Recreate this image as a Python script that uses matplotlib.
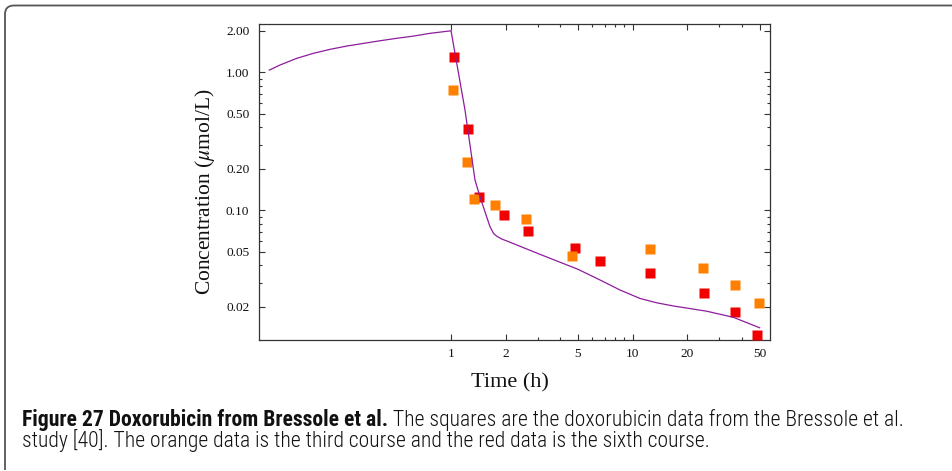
import matplotlib
matplotlib.use("Agg")
import matplotlib.pyplot as plt
from matplotlib import font_manager
from matplotlib.path import Path
from matplotlib.patches import PathPatch
from matplotlib.ticker import FixedLocator, FixedFormatter, NullFormatter

# model curve
curve_t = [0.1, 0.1145, 0.1415, 0.1746, 0.216, 0.267, 0.329, 0.407, 0.502, 0.621, 0.766, 1.0,
           1.194, 1.355, 1.445, 1.57, 1.64, 1.715, 1.785, 1.9, 2.03,
           3.09, 5.0, 6.61, 8.51, 10.97, 13.55, 16.7, 25.5, 35.8, 50.0]
curve_c = [1.039, 1.13, 1.263, 1.373, 1.468, 1.551, 1.62, 1.694, 1.764, 1.83, 1.917, 2.0,
           0.533, 0.166, 0.125, 0.09, 0.076, 0.068, 0.065, 0.062, 0.060,
           0.048, 0.0374, 0.0313, 0.0265, 0.0230, 0.0214, 0.0203, 0.0186, 0.0168, 0.0141]

# third course (orange)
third_t = [1.03, 1.23, 1.33, 1.75, 2.6, 4.62, 12.5, 24.5, 36.7, 49.8]
third_c = [0.744, 0.224, 0.121, 0.110, 0.0865, 0.0466, 0.0524, 0.0382, 0.0288, 0.0213]

# sixth course (red)
sixth_t = [1.04, 1.245, 1.43, 1.96, 2.66, 4.83, 6.63, 12.5, 24.8, 36.7, 48.5]
sixth_c = [1.30, 0.388, 0.1255, 0.0925, 0.0712, 0.0536, 0.0431, 0.0353, 0.0253, 0.0183, 0.0125]

x_major = [1, 2, 5, 10, 20, 50]
x_minor = [3, 4, 6, 7, 8, 9, 30, 40]
y_major = [2.0, 1.0, 0.5, 0.2, 0.1, 0.05, 0.02]
y_minor = [0.9, 0.8, 0.7, 0.6, 0.4, 0.3, 0.09, 0.08, 0.07, 0.06, 0.04, 0.03]

caption_bold = "Figure 27 Doxorubicin from Bressole et al."
caption_rest = "The squares are the doxorubicin data from the Bressole et al."
caption_line2 = "study [40]. The orange data is the third course and the red data is the sixth course."


def pick_font(names):
    avail = {f.name for f in font_manager.fontManager.ttflist}
    for n in names:
        if n in avail:
            return n
    return "DejaVu Sans"


plt.rcParams['font.family'] = 'Liberation Serif'
plt.rcParams['mathtext.fontset'] = 'stix'

W, H = 952, 471
fig = plt.figure(figsize=(W / 100, H / 100), dpi=100)


def fx(px):
    return px / W


def fy(py):
    return 1 - py / H


ax = fig.add_axes([fx(259), fy(340), fx(770) - fx(259), fy(24) - fy(340)])
ax.set_xscale('log')
ax.set_yscale('log')
ax.set_xlim(0.0877, 57)
ax.set_ylim(0.0115, 2.24)

ax.plot(sixth_t, sixth_c, 's', color='#f20000', ms=6.5, mec='none', zorder=3)
ax.plot(third_t, third_c, 's', color='#ff8000', ms=6.5, mec='none', zorder=3)
ax.plot(curve_t, curve_c, '-', color='#8e1c9e', lw=0.9, zorder=4)

ax.xaxis.set_major_locator(FixedLocator(x_major))
ax.xaxis.set_major_formatter(FixedFormatter([str(v) for v in x_major]))
ax.xaxis.set_minor_locator(FixedLocator(x_minor))
ax.xaxis.set_minor_formatter(NullFormatter())
ax.yaxis.set_major_locator(FixedLocator(y_major))
ax.yaxis.set_major_formatter(FixedFormatter([f"{v:.2f}" for v in y_major]))
ax.yaxis.set_minor_locator(FixedLocator(y_minor))
ax.yaxis.set_minor_formatter(NullFormatter())

ax.tick_params(which='both', direction='in', top=True, right=True, colors='#333333',
               labelcolor='#111111', labelsize=9.6, width=0.8)
ax.tick_params(which='major', length=4.5)
ax.tick_params(which='minor', length=2.5)
ax.tick_params(axis='x', pad=6.0)
ax.tick_params(axis='y', pad=7.0)
for s in ax.spines.values():
    s.set_color('#333333')
    s.set_linewidth(0.9)

fig.text(fx(205), fy(192), r"Concentration ($\mu$mol/L)", rotation=90,
         ha='center', va='center', fontsize=15.5, color='#111111')
fig.text(fx(510), fy(383), "Time (h)", ha='center', va='center', fontsize=16,
         color='#111111')

# frame around the figure (rounded top-left corner)
verts = [(fx(5), fy(470)), (fx(5), fy(14)), (fx(5), fy(5.5)), (fx(14), fy(5.5)), (1.0, fy(5.5))]
codes = [Path.MOVETO, Path.LINETO, Path.CURVE3, Path.CURVE3, Path.LINETO]
fig.add_artist(PathPatch(Path(verts, codes), transform=fig.transFigure, fill=False,
                         edgecolor='#555555', lw=1.3))

# caption
cap_font = pick_font(['Liberation Sans Narrow', 'Roboto Condensed', 'Open Sans Condensed',
                      'Noto Sans', 'Open Sans'])
renderer = fig.canvas.get_renderer()
size = 12.0
t1 = fig.text(fx(22), fy(425.7), caption_bold, fontsize=size, fontweight='bold',
              family=cap_font, va='baseline', color='#111111')
t2 = fig.text(0, fy(425.7), " " + caption_rest, fontsize=size, family=cap_font,
              fontweight='light', va='baseline', color='#111111')
w = t1.get_window_extent(renderer).width + t2.get_window_extent(renderer).width
size = size * 880 / w
t1.set_fontsize(size)
t2.set_fontsize(size)
x_end = t1.get_window_extent(renderer).x1
t2.set_x(x_end / W)
fig.text(fx(22), fy(447.5), caption_line2, fontsize=size, family=cap_font,
         fontweight='light', va='baseline', color='#111111')

fig.savefig("out.png", dpi=100)
